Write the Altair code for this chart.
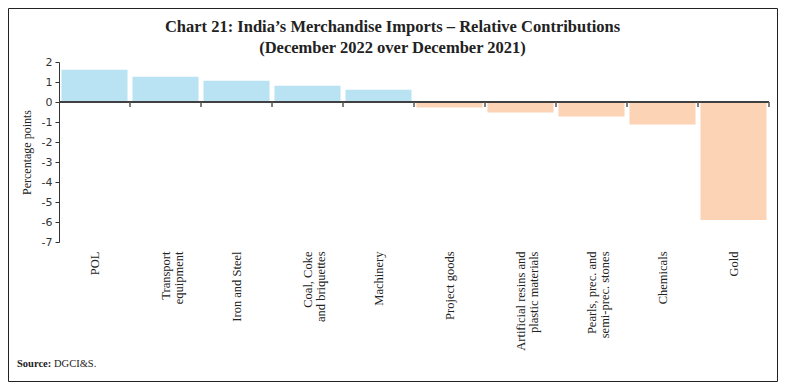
import altair as alt
import pandas as pd

categories = [
    "POL",
    "Transport|equipment",
    "Iron and Steel",
    "Coal, Coke|and briquettes",
    "Machinery",
    "Project goods",
    "Artificial resins and|plastic materials",
    "Pearls, prec. and|semi-prec. stones",
    "Chemicals",
    "Gold",
]
values = [1.61, 1.26, 1.06, 0.81, 0.61, -0.27, -0.52, -0.72, -1.12, -5.90]
y_ticks = [-7, -6, -5, -4, -3, -2, -1, 0, 1, 2]
title_lines = [
    "Chart 21: India\u2019s Merchandise Imports \u2013 Relative Contributions",
    "(December 2022 over December 2021)",
]

df = pd.DataFrame({"category": categories, "value": values})
df["sign"] = ["pos" if v >= 0 else "neg" for v in values]
one = pd.DataFrame({"value": [0]})

W, H = 710, 180
SERIF = "Liberation Serif"

xscale = alt.Scale(paddingInner=0.07, paddingOuter=0.035)
xaxis = alt.Axis(
    title=None,
    labelAngle=-90,
    labelExpr="split(datum.label, '|')",
    labelFont=SERIF,
    labelFontSize=12.5,
    labelColor="#222222",
    labelPadding=9,
    labelLineHeight=13,
    domain=False,
    ticks=False,
)
yscale = alt.Scale(domain=[-7, 2], nice=False, zero=False)
yaxis = alt.Axis(
    title="Percentage points",
    titleFont=SERIF,
    titleFontSize=12,
    titleFontWeight="normal",
    titleColor="#222222",
    titlePadding=8,
    values=y_ticks,
    labelExpr="'' + datum.value",
    labelOverlap=False,
    grid=False,
    tickSize=4,
    tickColor="#333333",
    domainColor="#333333",
    labelFont="DejaVu Sans",
    labelFontSize=11,
    labelColor="#333333",
    labelPadding=3,
)

x = alt.X("category:N", sort=categories, scale=xscale, axis=xaxis)
y = alt.Y("value:Q", scale=yscale, axis=yaxis)

bars = alt.Chart(df).mark_bar().encode(
    x=x,
    y=y,
    color=alt.Color(
        "sign:N",
        scale=alt.Scale(domain=["pos", "neg"], range=["#B9E3F2", "#FCD3B4"]),
        legend=None,
    ),
)

zero = alt.Chart(one).mark_rule(color="#404040", strokeWidth=2).encode(
    y=y, x=alt.value(0), x2=alt.value(W)
)

ticks = alt.Chart(df).mark_rule(color="#555555", strokeWidth=1.5, xOffset=2.5, yOffset=0, y2Offset=5).encode(
    x=alt.X("category:N", sort=categories, scale=xscale, axis=xaxis, bandPosition=1),
    y=alt.Y(datum=0, scale=yscale, axis=yaxis),
    y2=alt.datum(0),
)

frame = alt.Chart(one).mark_rect(fillOpacity=0, stroke="#222222", strokeWidth=1).encode(
    x=alt.value(-50.5), x2=alt.value(W + 8.5), y=alt.value(-53.5), y2=alt.value(H + 139.5)
)

title = alt.Chart(one).mark_text(
    text=title_lines,
    font=SERIF,
    fontSize=16.5,
    fontWeight="bold",
    align="center",
    baseline="alphabetic",
    lineHeight=21,
    color="#222222",
).encode(x=alt.value(333.5), y=alt.value(-30))

src1 = alt.Chart(one).mark_text(
    text="Source:", font=SERIF, fontSize=10.5, fontWeight="bold", align="left",
    baseline="alphabetic", color="#222222",
).encode(x=alt.value(-42), y=alt.value(305))
src2 = alt.Chart(one).mark_text(
    text="DGCI&S.", font=SERIF, fontSize=10.5, align="left",
    baseline="alphabetic", color="#222222",
).encode(x=alt.value(-5), y=alt.value(305))

chart = alt.layer(bars, zero, ticks, frame, title, src1, src2).properties(
    width=W,
    height=H,
    padding={"left": 51, "top": 54, "right": 9, "bottom": 140},
    autosize=alt.AutoSizeParams(type="none"),
).configure_view(stroke=None)

chart.save("out.html", embed_options={"renderer": "svg", "actions": False})
